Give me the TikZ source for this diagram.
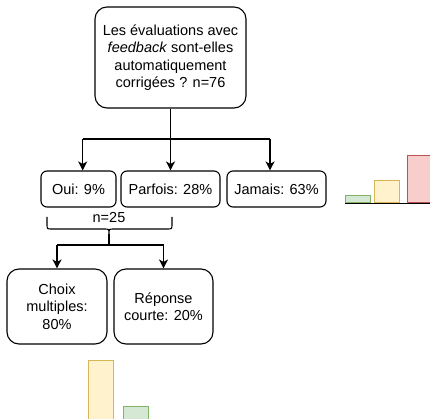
\documentclass[tikz,border=0pt]{standalone}
\usepackage{fontspec}
\setmainfont{Liberation Sans}
\usetikzlibrary{arrows.meta}
\definecolor{gfill}{HTML}{D5E8D4}\definecolor{gline}{HTML}{82B366}
\definecolor{yfill}{HTML}{FFF2CC}\definecolor{yline}{HTML}{D6B656}
\definecolor{rfill}{HTML}{F8CECC}\definecolor{rline}{HTML}{B85450}
\tikzset{
  box/.style={draw, line width=1.1pt, rounded corners=#1, align=center, inner sep=0pt,
    font=\fontsize{14.5}{17.4}\selectfont},
  box/.default=6pt,
  arr/.style={line width=1.1pt, -{Stealth[length=9pt,width=9pt,inset=2.5pt]}},
  ln/.style={line width=1.1pt},
  lbl/.style={font=\fontsize{14.5}{17.4}\selectfont, inner sep=0pt},
  gbar/.style={fill=gfill, draw=gline, line width=1pt},
  ybar/.style={fill=yfill, draw=yline, line width=1pt},
  rbar/.style={fill=rfill, draw=rline, line width=1pt},
}
\begin{document}
\begin{tikzpicture}[x=1pt,y=-1pt]
\useasboundingbox (0,0) rectangle (430,419);
% bar charts
\draw[gbar] (345,196) rectangle (370,203);
\draw[ybar] (374.5,181) rectangle (399,203);
\draw[rbar] (407,156) rectangle (432,203);
\draw[ln] (345,203.5) -- (431,203.5);
\draw[ybar] (88,360) rectangle (113,425);
\draw[gbar] (123,406) rectangle (148,425);
% nodes
\node[box=12pt, minimum width=151pt, minimum height=101pt] (top) at (170.5,57.5)
  {Les évaluations avec\\\textit{feedback} sont-elles\\automatiquement\\corrigées ? n=76};
\node[box, minimum width=75pt, minimum height=36pt] (oui) at (78.5,189) {Oui: 9\%};
\node[box, minimum width=99pt, minimum height=36pt] (parf) at (170.5,189) {Parfois: 28\%};
\node[box, minimum width=99pt, minimum height=36pt] (jam) at (276.5,189) {Jamais: 63\%};
\node[box=12pt, minimum width=100pt, minimum height=75pt] (choix) at (57,306.5) {Choix\\multiples:\\80\%};
\node[box=12pt, minimum width=99pt, minimum height=75pt] (rep) at (163.5,306.5) {Réponse\\courte: 20\%};
\node[lbl] (n25) at (109,218) {n=25};
% connectors
\coordinate (j1) at (170.5,139);
\coordinate (jl) at (82.7,139);
\coordinate (jr) at (270,139);
\draw[ln] (top.south) -- (j1);
\draw[ln] (jl) -- (jr);
\draw[arr] (jl) -- ([xshift=4.2pt]oui.north);
\draw[arr] (j1) -- (parf.north);
\draw[arr] (jr) -- ([xshift=-6.5pt]jam.north);
% brace
\coordinate (bt) at (109,234);
\coordinate (bl) at (47,217);
\coordinate (br) at (172,217);
\draw[line width=1.1pt] (bl) -- (47,224) .. controls (47,229) .. (52,229) -- (104,229)
  .. controls (109,229) .. (bt) .. controls (109,229) .. (114,229) -- (167,229)
  .. controls (172,229) .. (172,224) -- (br);
\coordinate (j2) at (109,245);
\coordinate (j2l) at (57,245);
\coordinate (j2r) at (163.5,245);
\draw[ln] (bt) -- (j2);
\draw[ln] (j2l) -- (j2r);
\draw[arr] (j2l) -- (choix.north);
\draw[arr] (j2r) -- (rep.north);
\end{tikzpicture}
\end{document}
